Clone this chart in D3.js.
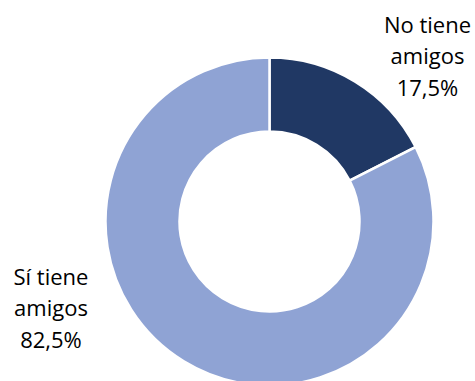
<!DOCTYPE html>
<html>
<head>
<meta charset="utf-8">
<script src="https://cdn.jsdelivr.net/npm/d3@7"></script>
<style>
  html, body { margin: 0; padding: 0; background: #fff; }
  svg { display: block; }
</style>
</head>
<body>
<svg id="chart" width="475" height="381"></svg>
<script>
// Friendship survey: share of respondents with / without friends
const categories = ["No tiene amigos", "Sí tiene amigos"];
const values = [17.5, 82.5];
const labelLines = [["No tiene", "amigos"], ["Sí tiene", "amigos"]];
const colors = ["#203864", "#8FA3D4"];

const svg = d3.select("#chart");
const cx = 269.5, cy = 221.5;
const outerR = 164, innerR = 90;

const fmt = v => d3.format(".1f")(v).replace(".", ",") + "%";

const pie = d3.pie().sort(null).value(d => d.value);
const arcs = pie(categories.map((c, i) => ({ name: c, value: values[i], idx: i })));

const arc = d3.arc().innerRadius(innerR).outerRadius(outerR);

const g = svg.append("g").attr("transform", `translate(${cx},${cy})`);

g.selectAll("path")
  .data(arcs)
  .join("path")
  .attr("d", arc)
  .attr("fill", d => colors[d.data.idx])
  .attr("stroke", "#fff")
  .attr("stroke-width", 2.5)
  .attr("stroke-linejoin", "miter");

// Data labels placed beside each slice
const labelPos = [
  { x: 427.5, y: 32.5 },
  { x: 51, y: 284.5 }
];
const lineH = 31.5;

arcs.forEach(d => {
  const i = d.data.idx;
  const lines = labelLines[i].concat([fmt(d.data.value)]);
  const t = svg.append("text")
    .attr("text-anchor", "middle")
    .attr("font-family", "'Open Sans', sans-serif")
    .attr("font-size", 22)
    .attr("fill", "#000");
  lines.forEach((s, k) => {
    t.append("tspan")
      .attr("x", labelPos[i].x)
      .attr("y", labelPos[i].y + k * lineH)
      .text(s);
  });
});
</script>
</body>
</html>
